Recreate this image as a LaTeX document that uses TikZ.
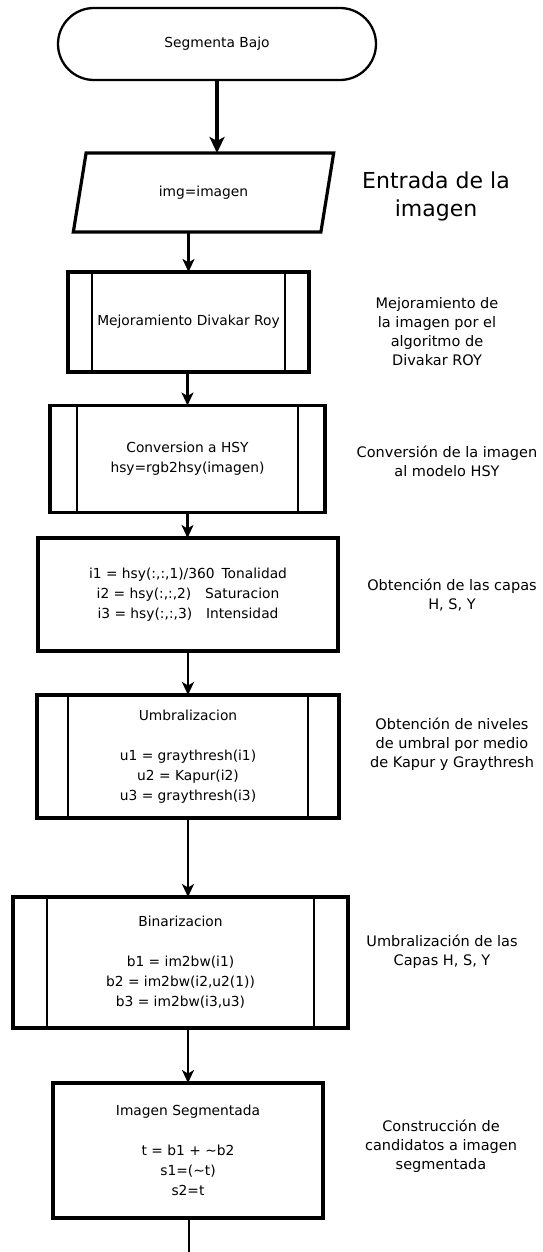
\documentclass[tikz,border=0pt]{standalone}
\usepackage{fontspec}
\setmainfont{DejaVu Sans}
\usetikzlibrary{arrows.meta,shapes.geometric,shapes.misc}

\begin{document}
\begin{tikzpicture}[x=1pt,y=-1pt,
  every node/.style={inner sep=0pt,outer sep=0pt},
  boxtext/.style={align=center,font=\fontsize{13.8}{20}\selectfont},
  box/.style={draw=black,line width=3.2pt,fill=white,boxtext},
  innerline/.style={draw=black,line width=2.6pt},
  terminal/.style={draw=black,line width=2.3pt,shape=rounded rectangle,boxtext},
  io/.style={draw=black,line width=3.2pt,shape=trapezium,trapezium left angle=70,trapezium right angle=110,trapezium stretches=true,boxtext},
  flow/.style={draw=black,line width=2.2pt,-{Stealth[length=13pt,width=12pt,inset=3.5pt]}},
  flowthick/.style={draw=black,line width=3.4pt,-{Stealth[length=16pt,width=15pt,inset=4pt]}},
  note/.style={align=center,font=\fontsize{14.5}{19}\selectfont}
]
\useasboundingbox (0,0) rectangle (543,1252);

% flowchart blocks
\node[terminal,minimum width=318pt,minimum height=72pt] (start) at (217,44) {Segmenta Bajo};
\node[io,minimum width=263pt,minimum height=79pt] (input) at (203.5,192.5) {img=imagen};
\node[box,minimum width=241pt,minimum height=100pt] (enhance) at (188.5,322) {Mejoramiento Divakar Roy};
\node[box,minimum width=275pt,minimum height=107pt] (convert) at (187.5,459) {Conversion a HSY\\hsy=rgb2hsy(imagen)};
\node[box,minimum width=300pt,minimum height=113pt] (layers) at (188,594.5)
  {i1 = hsy(:,:,1)/360\enspace Tonalidad\\i2 = hsy(:,:,2)\quad Saturacion\\i3 = hsy(:,:,3)\quad Intensidad};
\node[box,minimum width=302pt,minimum height=123pt] (thresh) at (188,756.5)
  {Umbralizacion\\[20pt]u1 = graythresh(i1)\\u2 = Kapur(i2)\\u3 = graythresh(i3)};
\node[box,minimum width=335pt,minimum height=131pt] (binar) at (180.5,962.5)
  {Binarizacion\\[20pt]b1 = im2bw(i1)\\b2 = im2bw(i2,u2(1))\\b3 = im2bw(i3,u3)};
\node[box,minimum width=270pt,minimum height=135pt] (result) at (188,1150.5)
  {Imagen Segmentada\\[20pt]t = b1 + \textasciitilde b2\\s1=(\textasciitilde t)\\s2=t};
\coordinate (exit) at (189,1252);

% side bars of the predefined-process blocks
\foreach \n/\d in {enhance/24, convert/27, thresh/31, binar/34} {
  \draw[innerline] ([xshift=\d pt]\n.north west) -- ([xshift=\d pt]\n.south west);
  \draw[innerline] ([xshift=-\d pt]\n.north east) -- ([xshift=-\d pt]\n.south east);
}

% connectors
\draw[flowthick] (start.south) -- (start.south |- input.north);
\draw[flow] (enhance.north |- input.south) -- (enhance.north);
\draw[flow] (convert.north |- enhance.south) -- (convert.north);
\draw[flow] (convert.south) -- (convert.south |- layers.north);
\draw[flow] (layers.south) -- (layers.south |- thresh.north);
\draw[flow] (thresh.south) -- (thresh.south |- binar.north);
\draw[flow] (result.north |- binar.south) -- (result.north);
\draw[draw=black,line width=2.2pt] (result.south -| exit) -- (exit);

% side notes
\node[note,font=\fontsize{22}{28}\selectfont] (n1) at (436,196.5) {Entrada de la\\imagen};
\node[note] (n2) at (437,331.5) {Mejoramiento de\\la imagen por el\\algoritmo de\\Divakar ROY};
\node[note] (n3) at (447,461) {Conversión de la imagen\\al modelo HSY};
\node[note] (n4) at (452,595) {Obtención de las capas\\H, S, Y};
\node[note] (n5) at (452,744) {Obtención de niveles\\de umbral por medio\\de Kapur y Graythresh};
\node[note] (n6) at (442,952) {Umbralización de las\\Capas H, S, Y};
\node[note] (n7) at (441,1146.5) {Construcción de\\candidatos a imagen\\segmentada};
\end{tikzpicture}
\end{document}
